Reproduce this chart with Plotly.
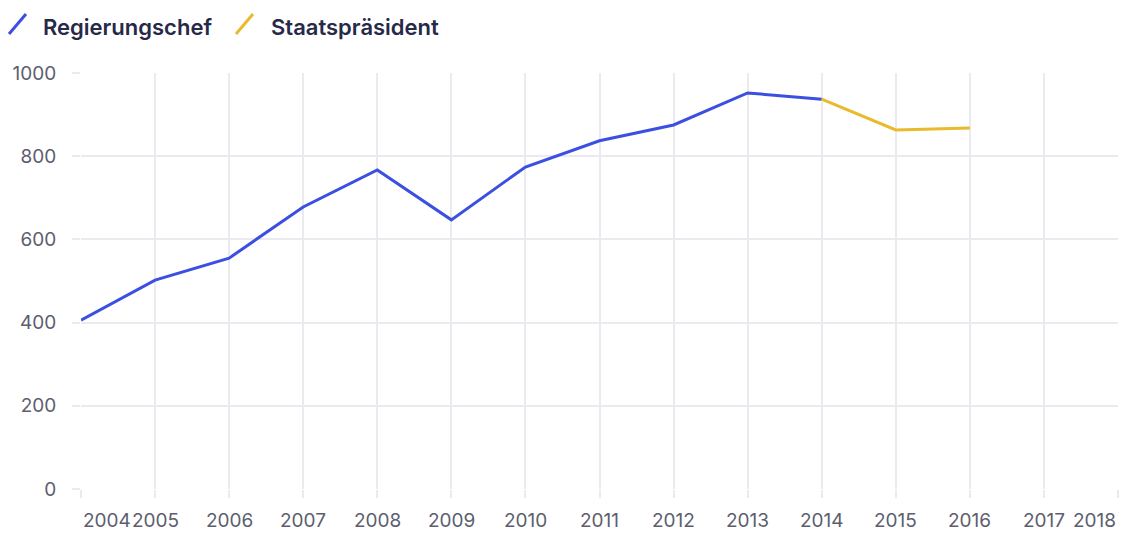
import plotly.graph_objects as go

years = list(range(2004, 2019))
reg_years = [2004, 2005, 2006, 2007, 2008, 2009, 2010, 2011, 2012, 2013, 2014]
reg_values = [406, 502, 555, 678, 767, 647, 774, 837, 875, 952, 937]
sp_years = [2014, 2015, 2016]
sp_values = [937, 863, 868]
y_ticks = [0, 200, 400, 600, 800, 1000]
series_names = ["Regierungschef", "Staatspräsident"]
colors = ["#3b4fe0", "#e8ba2c"]

FONT = "Inter"
TEXT = "#262a48"
TICK = "#5c5e6e"
GRID = "#ebebef"

fig = go.Figure()
fig.add_trace(go.Scatter(x=reg_years, y=reg_values, mode="lines", name=series_names[0],
                         line=dict(color=colors[0], width=3), showlegend=False))
fig.add_trace(go.Scatter(x=sp_years, y=sp_values, mode="lines", name=series_names[1],
                         line=dict(color=colors[1], width=3), showlegend=False))

L, R, T, B = 81, 3, 73, 44
W, H = 1121, 533
PW = W - L - R


def px2paper_x(px):
    return (px - L) / PW


def px2paper_y(py):
    return (H - B - py) / (H - T - B)


annotations = []
# x tick labels (first left-aligned, last right-aligned)
for i, yr in enumerate(years):
    anchor = "center"
    if i == 0:
        anchor = "left"
    elif i == len(years) - 1:
        anchor = "right"
    annotations.append(dict(x=yr, xref="x", y=0, yref="paper", yanchor="middle",
                            yshift=-31, xanchor=anchor, text=str(yr), showarrow=False,
                            font=dict(family=FONT, size=19, color=TICK)))

# legend
shapes = []
legend_items = [(9, 41, series_names[0]), (236, 269, series_names[1])]
for (sx, tx, name), col in zip(legend_items, colors):
    shapes.append(dict(type="line", xref="paper", yref="paper",
                       x0=px2paper_x(sx), y0=px2paper_y(34),
                       x1=px2paper_x(sx + 17), y1=px2paper_y(14),
                       line=dict(color=col, width=3)))
    annotations.append(dict(x=px2paper_x(tx), xref="paper", y=px2paper_y(27), yref="paper",
                            xanchor="left", yanchor="middle", text=name, showarrow=False,
                            font=dict(family=FONT, size=22, color=TEXT, weight=600)))

fig.update_layout(
    width=W, height=H,
    margin=dict(l=L, r=R, t=T, b=B),
    paper_bgcolor="white", plot_bgcolor="white",
    font=dict(family=FONT, color=TICK, size=19),
    annotations=annotations, shapes=shapes,
    xaxis=dict(range=[2004, 2018], tickvals=years, showticklabels=False,
               showgrid=True, gridcolor=GRID, gridwidth=1.5, zeroline=False,
               ticks="outside", ticklen=8, tickcolor=GRID, tickwidth=1.5, showline=False),
    yaxis=dict(range=[0, 1000], tickvals=y_ticks, showgrid=True, gridcolor=GRID, gridwidth=1.5,
               zeroline=False, ticks="outside", ticklen=8, tickcolor=GRID, tickwidth=1.5,
               ticklabelstandoff=12, tickfont=dict(family=FONT, size=19, color=TICK),
               showline=False),
)

fig.write_html("out.html", config={"displayModeBar": False},
               post_script="document.body.style.margin='0';document.body.style.overflow='hidden';")
